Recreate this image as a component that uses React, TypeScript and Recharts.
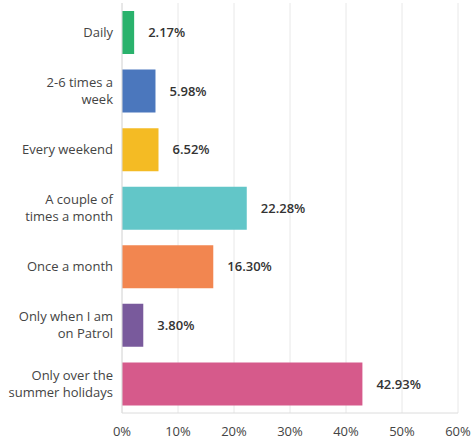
import React from 'react';
import { BarChart, Bar, XAxis, YAxis, CartesianGrid, Cell, LabelList } from 'recharts';

const categories = [
  'Daily',
  '2-6 times a week',
  'Every weekend',
  'A couple of times a month',
  'Once a month',
  'Only when I am on Patrol',
  'Only over the summer holidays',
];
const categoryLines: string[][] = [
  ['Daily'],
  ['2-6 times a', 'week'],
  ['Every weekend'],
  ['A couple of', 'times a month'],
  ['Once a month'],
  ['Only when I am', 'on Patrol'],
  ['Only over the', 'summer holidays'],
];
const values = [2.17, 5.98, 6.52, 22.28, 16.3, 3.8, 42.93];
const colors = ['#2ab26c', '#4b77bd', '#f4bb24', '#62c6c8', '#f28650', '#795a9c', '#d65a8b'];
const xTicks = [0, 10, 20, 30, 40, 50, 60];

const data = categories.map((c, i) => ({ name: c, value: values[i] }));

const FONT = '"Open Sans", sans-serif';

const YTick = (props: any) => {
  const { x, y, payload } = props;
  const lines = categoryLines[categories.indexOf(payload.value)] || [payload.value];
  const lh = 17;
  const start = -((lines.length - 1) * lh) / 2;
  return (
    <g>
      {lines.map((l, i) => (
        <text
          key={i}
          x={x}
          y={y + start + i * lh}
          dy="0.35em"
          textAnchor="end"
          fill="#444"
          fontFamily={FONT}
          fontSize={13}
        >
          {l}
        </text>
      ))}
    </g>
  );
};

export default function App() {
  return (
    <div style={{ position: 'absolute', left: 0, top: 0, background: '#fff' }}>
      <BarChart
        width={475}
        height={440}
        data={data}
        layout="vertical"
        margin={{ top: 3, right: 17, bottom: 0, left: 0 }}
        barCategoryGap={8}
      >
        <CartesianGrid horizontal={false} stroke="#e8e8e8" />
        <XAxis
          type="number"
          domain={[0, 60]}
          ticks={xTicks}
          tickFormatter={(v: number) => `${v}%`}
          height={27}
          tickLine={false}
          tickSize={0}
          tickMargin={14}
          axisLine={{ stroke: '#dcdcdc' }}
          tick={{ fill: '#444', fontFamily: FONT, fontSize: 13 }}
          interval={0}
        />
        <YAxis
          type="category"
          dataKey="name"
          width={122}
          tickLine={false}
          tickSize={0}
          tickMargin={9}
          axisLine={{ stroke: '#dcdcdc' }}
          tick={<YTick />}
          interval={0}
        />
        <Bar dataKey="value" isAnimationActive={false}>
          {data.map((d, i) => (
            <Cell key={i} fill={colors[i]} />
          ))}
          <LabelList
            dataKey="value"
            position="right"
            offset={14}
            formatter={(v: number) => `${v.toFixed(2)}%`}
            style={{ fill: '#333', fontFamily: FONT, fontSize: 13, fontWeight: 600 }}
          />
        </Bar>
      </BarChart>
    </div>
  );
}
